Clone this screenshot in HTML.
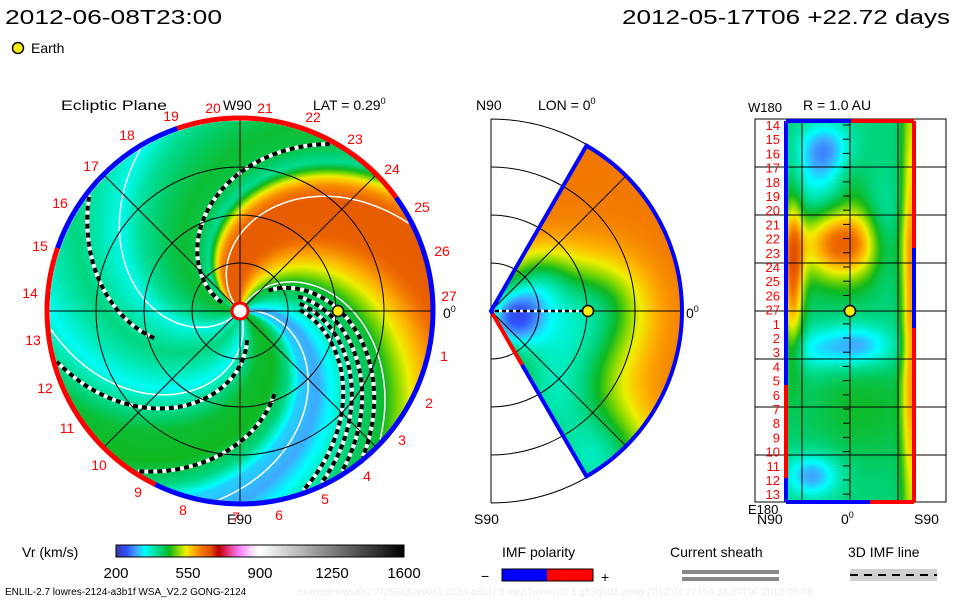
<!DOCTYPE html>
<html><head><meta charset="utf-8"><style>
html,body{margin:0;padding:0;background:#fff;}
#wrap{position:relative;width:960px;height:600px;overflow:hidden;}
canvas,svg{position:absolute;left:0;top:0;}
text{font-family:"Liberation Sans",sans-serif;}
</style></head><body>
<div id="wrap">
<canvas id="cv" width="960" height="600"></canvas>
<svg id="ov" width="960" height="600" xmlns="http://www.w3.org/2000/svg">
<text x="5" y="24" font-size="20" textLength="217" lengthAdjust="spacingAndGlyphs">2012-06-08T23:00</text>
<text x="622" y="24" font-size="20" textLength="328" lengthAdjust="spacingAndGlyphs">2012-05-17T06 +22.72 days</text>
<circle cx="18" cy="48" r="5.5" fill="#ffee00" stroke="#000" stroke-width="1.5"/>
<text x="31" y="53" font-size="14">Earth</text>
<text x="61" y="110" font-size="14" textLength="106" lengthAdjust="spacingAndGlyphs">Ecliptic Plane</text>
<text x="223" y="110" font-size="14">W90</text>
<text x="313" y="110" font-size="14">LAT = 0.29<tspan dy="-6" font-size="9">0</tspan></text>
<text x="227" y="524" font-size="14">E90</text>
<text x="476" y="110" font-size="14">N90</text>
<text x="538" y="110" font-size="14">LON = 0<tspan dy="-6" font-size="9">0</tspan></text>
<text x="474" y="524" font-size="14">S90</text>
<text x="443" y="318" font-size="14">0<tspan dy="-6" font-size="9">0</tspan></text>
<text x="686" y="318" font-size="14">0<tspan dy="-6" font-size="9">0</tspan></text>
<text x="803" y="110" font-size="14">R = 1.0 AU</text>
<text x="748" y="112" font-size="13">W180</text>
<text x="748" y="514" font-size="13">E180</text>
<text x="757" y="524" font-size="14">N90</text>
<text x="841" y="524" font-size="14">0<tspan dy="-6" font-size="9">0</tspan></text>
<text x="914" y="524" font-size="14">S90</text>
<rect x="755" y="119" width="191" height="383" fill="none" stroke="#000"/>
<g id="grid"></g>
<g id="ecl"></g>
<g id="mer"></g>
<g id="ll"></g>
<text x="22" y="557" font-size="14">Vr (km/s)</text>
<g id="cbar"></g>
<rect x="116" y="545" width="288" height="12" fill="none" stroke="#000"/>
<g id="cbticks"></g>
<text x="502" y="557" font-size="14">IMF polarity</text>
<text x="481" y="581" font-size="14">−</text>
<rect x="502" y="569" width="45" height="12" fill="#0000ff"/>
<rect x="547" y="569" width="46" height="12" fill="#ff0000"/>
<rect x="502" y="569" width="91" height="12" fill="none" stroke="#000"/>
<text x="601" y="582" font-size="14">+</text>
<text x="670" y="557" font-size="14">Current sheath</text>
<rect x="682" y="570" width="97" height="4" fill="#888"/>
<rect x="682" y="577" width="97" height="4" fill="#888"/>
<text x="848" y="557" font-size="14">3D IMF line</text>
<rect x="850" y="569" width="87" height="12" fill="#d0d0d0"/>
<line x1="850" y1="575" x2="937" y2="575" stroke="#000" stroke-width="2" stroke-dasharray="8 6"/>
<text x="5" y="595" font-size="10">ENLIL-2.7 lowres-2124-a3b1f WSA_V2.2 GONG-2124</text>
<text x="297" y="595" font-size="10" fill="#ececec">examples/wsafr2.7/256x30x90x1.2124-a3b1f.8-mcp1umn1cd-1.g53q5d2.gong-2012:04:27T04:38:00T00    2012-06-08</text>
</svg>
</div>
<script>
// ---- data ----
const cmapV=[200,250,300,340,380,420,460,500,540,580,620,660,700,740,800,860,900,1600];
const cmapC=['#3a3aa0','#3050ff','#40a8ff','#00ffff','#00e8b0','#00d070','#10b820','#80d800','#f0f000','#ffb000','#f07000','#e05000','#c00000','#e03070','#ff80ff','#ffe0ff','#ffffff','#000000'];
const cbTickVals=[200,550,900,1250,1600];
const eclPsi=[0,15,25,35,45,60,70,80,90,105,130,140,145,150,155,165,180,195,210,225,240,255,270,285,300,315,335,350,360];
const eclV=[320,300,340,380,420,450,500,550,590,640,645,600,550,470,400,440,450,430,400,350,380,410,380,345,400,450,460,410,320];
const dashedArms=[55,47,40,34,166,247,300,342];
const dashedStart=[35,60,60,60,20,90,30,90];
const whiteArms=[8,62,132,226,290];
const merBase=615;
const merBlobs=[[0.1,-0.03,0.12,-270],[0.42,-0.08,0.22,-190],[0.3,-0.45,0.2,-170],[0.55,-0.8,0.2,-220],[0.25,0.15,0.12,-110],[0.6,0.05,0.15,-60]];
const llBase=415;
const llBlobs=[[0.45,0.32,0.25,0.07,230],[0.05,0.40,0.06,0.15,200],[0.97,0.5,0.05,0.5,170],[0.3,0.07,0.15,0.05,-110],[0.25,0.17,0.2,0.07,-70],[0.55,0.59,0.2,0.04,-120],[0.2,0.6,0.15,0.04,-60],[0.2,0.93,0.15,0.04,-120],[0.75,0.3,0.1,0.08,-80],[0.6,0.75,0.3,0.1,40],[0.5,0.15,0.1,0.06,40]];
const lonLabels=['14','15','16','17','18','19','20','21','22','23','24','25','26','27','1','2','3','4','5','6','7','8','9','10','11','12','13'];
const rimLabels=[['19',171,121],['20',213,113],['21',265,113],['22',313,122],['23',355,144],['24',392,174],['25',422,212],['26',442,256],['27',449,301],['1',444,361],['2',429,408],['3',402,445],['4',367,481],['5',325,504],['6',279,520],['7',236,522],['8',183,515],['9',138,497],['10',99,470],['11',67,433],['12',45,393],['13',33,345],['14',30,298],['15',40,251],['16',60,208],['17',91,171],['18',127,140]];
// ---- geometry ----
const CX=240,CY=311,R=191,K=0.55;
const MX=491,MY=311,MR=191;
const LX0=786,LX1=914,LY0=121,LY1=502;
const NS='http://www.w3.org/2000/svg';
function hex(c){return [parseInt(c.substr(1,2),16),parseInt(c.substr(3,2),16),parseInt(c.substr(5,2),16)];}
const cmapRGB=cmapC.map(hex);
function cmap(v){
  if(v<=cmapV[0])return cmapRGB[0];
  for(let i=1;i<cmapV.length;i++){if(v<=cmapV[i]){const t=(v-cmapV[i-1])/(cmapV[i]-cmapV[i-1]);const a=cmapRGB[i-1],b=cmapRGB[i];return [a[0]+(b[0]-a[0])*t,a[1]+(b[1]-a[1])*t,a[2]+(b[2]-a[2])*t];}}
  return cmapRGB[cmapRGB.length-1];
}
function interp(xs,ys,x){for(let i=1;i<xs.length;i++){if(x<=xs[i]){const t=(x-xs[i-1])/(xs[i]-xs[i-1]);return ys[i-1]+(ys[i]-ys[i-1])*t;}}return ys[ys.length-1];}
const cv=document.getElementById('cv');const ctx=cv.getContext('2d');
const img=ctx.createImageData(960,600);const D=img.data;
function put(x,y,c){const i=(y*960+x)*4;D[i]=c[0];D[i+1]=c[1];D[i+2]=c[2];D[i+3]=255;}
for(let y=CY-R;y<=CY+R;y++)for(let x=CX-R;x<=CX+R;x++){
  const dx=x-CX,dy=CY-y,r=Math.hypot(dx,dy);if(r>R||r<8)continue;
  let ph=Math.atan2(dy,dx)*180/Math.PI;let psi=((ph+K*r)%360+360)%360;
  put(x,y,cmap(interp(eclPsi,eclV,psi)));
}
for(let y=MY-MR;y<=MY+MR;y++)for(let x=MX;x<=MX+MR;x++){
  const dx=x-MX,dy=MY-y,r=Math.hypot(dx,dy);if(r>MR||r<4)continue;
  const th=Math.atan2(dy,dx)*180/Math.PI;if(Math.abs(th)>60)continue;
  const u=dx/MR,w=dy/MR;let v=merBase;
  for(const b of merBlobs){v+=b[3]*Math.exp(-((u-b[0])**2+(w-b[1])**2)/(2*b[2]*b[2]));}
  put(x,y,cmap(v));
}
for(let y=LY0;y<=LY1;y++)for(let x=LX0;x<=LX1;x++){
  const u=(x-LX0)/(LX1-LX0),w=(y-LY0)/(LY1-LY0);let v=llBase;
  for(const b of llBlobs){v+=b[4]*Math.exp(-((u-b[0])**2)/(2*b[2]*b[2])-((w-b[1])**2)/(2*b[3]*b[3]));}
  put(x,y,cmap(v));
}
const cbX0=116,cbX1=404;
function cbx(v){return cbX0+(v-200)/(1600-200)*(cbX1-cbX0);}
for(let x=cbX0;x<cbX1;x++){const v=200+(x-cbX0+0.5)/(cbX1-cbX0)*1400;const c=cmap(v);for(let y=545;y<557;y++)put(x,y,c);}
ctx.putImageData(img,0,0);
// ---- svg overlays ----
function mk(tag,parent){const e=document.createElementNS(NS,tag);parent.appendChild(e);return e;}
const ecl=document.getElementById('ecl'),mer=document.getElementById('mer'),ll=document.getElementById('ll'),grid=document.getElementById('grid');
function spiral(psi,r0){let d='';for(let r=r0;r<=R;r+=2){const ph=(psi-K*r)*Math.PI/180;d+=(d?'L':'M')+(CX+r*Math.cos(ph)).toFixed(1)+' '+(CY-r*Math.sin(ph)).toFixed(1);}return d;}
whiteArms.forEach(p=>{const e=mk('path',ecl);e.setAttribute('d',spiral(p,10));e.setAttribute('fill','none');e.setAttribute('stroke','#fff');e.setAttribute('stroke-width','1.5');

});
dashedArms.forEach((p,i)=>{const e=mk('path',ecl);e.setAttribute('d',spiral(p,dashedStart[i]));e.setAttribute('fill','none');e.setAttribute('stroke','#fff');e.setAttribute('stroke-width','4');


const f=mk('path',ecl);f.setAttribute('d',spiral(p,dashedStart[i]));f.setAttribute('fill','none');f.setAttribute('stroke','#000');f.setAttribute('stroke-width','4');f.setAttribute('stroke-dasharray','5 4');

});
[48,96,144].forEach(r=>{const c=mk('circle',ecl);c.setAttribute('cx',CX);c.setAttribute('cy',CY);c.setAttribute('r',r);c.setAttribute('fill','none');c.setAttribute('stroke','#000');c.setAttribute('stroke-width','1');

});
[0,45,90,135].forEach(a=>{const t=a*Math.PI/180;const l=mk('line',ecl);l.setAttribute('x1',CX-R*Math.cos(t));l.setAttribute('y1',CY+R*Math.sin(t));l.setAttribute('x2',CX+R*Math.cos(t));l.setAttribute('y2',CY-R*Math.sin(t));l.setAttribute('stroke','#000');l.setAttribute('stroke-width','1');

});
function arc(cx,cy,r,a0,a1){const p0=[cx+r*Math.cos(a0*Math.PI/180),cy-r*Math.sin(a0*Math.PI/180)],p1=[cx+r*Math.cos(a1*Math.PI/180),cy-r*Math.sin(a1*Math.PI/180)];return 'M'+p0[0]+' '+p0[1]+'A'+r+' '+r+' 0 '+((a1-a0)>180?1:0)+' 0 '+p1[0]+' '+p1[1];}
[[36,109,'#ff0000'],[109,161,'#0000ff'],[161,244,'#ff0000'],[244,396,'#0000ff']].forEach(s=>{const e=mk('path',ecl);e.setAttribute('d',arc(CX,CY,R+2,s[0],s[1]));e.setAttribute('fill','none');e.setAttribute('stroke',s[2]);e.setAttribute('stroke-width','5');

});
{const s=mk('circle',ecl);s.setAttribute('cx',CX);s.setAttribute('cy',CY);s.setAttribute('r',8);s.setAttribute('fill','#fff');s.setAttribute('stroke','#ff0000');s.setAttribute('stroke-width','3');


const e=mk('circle',ecl);e.setAttribute('cx',CX+98);e.setAttribute('cy',CY);e.setAttribute('r',5.5);e.setAttribute('fill','#ffee00');e.setAttribute('stroke','#000');e.setAttribute('stroke-width','1.5');

}
rimLabels.forEach(l=>{const t=mk('text',ecl);t.setAttribute('x',l[1]);t.setAttribute('y',l[2]);t.setAttribute('font-size','14');t.setAttribute('fill','#ff0000');t.setAttribute('text-anchor','middle');t.textContent=l[0];

});
[48,96,144,192].forEach(r=>{const e=mk('path',mer);e.setAttribute('d','M'+MX+' '+(MY-r)+'A'+r+' '+r+' 0 0 1 '+MX+' '+(MY+r));e.setAttribute('fill','none');e.setAttribute('stroke','#000');e.setAttribute('stroke-width','1');

});
[[MX,MY-192,MX,MY+192],[MX,MY,MX+MR,MY],[MX,MY,MX+MR*Math.cos(Math.PI/4),MY-MR*Math.sin(Math.PI/4)],[MX,MY,MX+MR*Math.cos(Math.PI/4),MY+MR*Math.sin(Math.PI/4)]].forEach(p=>{const l=mk('line',mer);l.setAttribute('x1',p[0]);l.setAttribute('y1',p[1]);l.setAttribute('x2',p[2]);l.setAttribute('y2',p[3]);l.setAttribute('stroke','#000');l.setAttribute('stroke-width','1');

});
{const c60=Math.cos(Math.PI/3),s60=Math.sin(Math.PI/3);
const w=mk('path',mer);w.setAttribute('d','M'+(MX+4*c60)+' '+(MY+4*s60)+'L'+MX+' '+MY+'L'+(MX+MR*c60)+' '+(MY-MR*s60)+'A'+MR+' '+MR+' 0 0 1 '+(MX+MR*c60)+' '+(MY+MR*s60)+'L'+(MX+62*c60)+' '+(MY+62*s60));w.setAttribute('fill','none');w.setAttribute('stroke','#0000ff');w.setAttribute('stroke-width','4');


const rd=mk('line',mer);rd.setAttribute('x1',MX+3*c60);rd.setAttribute('y1',MY+3*s60);rd.setAttribute('x2',MX+62*c60);rd.setAttribute('y2',MY+62*s60);rd.setAttribute('stroke','#ff0000');rd.setAttribute('stroke-width','4');


const dl=mk('line',mer);dl.setAttribute('x1',MX+4);dl.setAttribute('y1',MY);dl.setAttribute('x2',MX+97);dl.setAttribute('y2',MY);dl.setAttribute('stroke','#fff');dl.setAttribute('stroke-width','2.5');


const dk=mk('line',mer);dk.setAttribute('x1',MX+4);dk.setAttribute('y1',MY);dk.setAttribute('x2',MX+97);dk.setAttribute('y2',MY);dk.setAttribute('stroke','#000');dk.setAttribute('stroke-width','2.5');dk.setAttribute('stroke-dasharray','4 3');


const e=mk('circle',mer);e.setAttribute('cx',MX+97);e.setAttribute('cy',MY);e.setAttribute('r',5.5);e.setAttribute('fill','#ffee00');e.setAttribute('stroke','#000');e.setAttribute('stroke-width','1.5');

}
[802,850,898].forEach(x=>{const l=mk('line',grid);l.setAttribute('x1',x);l.setAttribute('y1',119);l.setAttribute('x2',x);l.setAttribute('y2',502);l.setAttribute('stroke','#000');

});
[167,215,263,311,359,407,455].forEach(y=>{const l=mk('line',grid);l.setAttribute('x1',755);l.setAttribute('y1',y);l.setAttribute('x2',946);l.setAttribute('y2',y);l.setAttribute('stroke','#000');

});
lonLabels.forEach((s,i)=>{const y=125+i*14.2;const t=mk('text',ll);t.setAttribute('x',780);t.setAttribute('y',y+5);t.setAttribute('font-size','13');t.setAttribute('fill','#ff0000');t.setAttribute('text-anchor','end');t.textContent=s;


const k=mk('line',ll);k.setAttribute('x1',843);k.setAttribute('x2',850);k.setAttribute('y1',y);k.setAttribute('y2',y);k.setAttribute('stroke','#000');

});
[[786,121,786,385,'#0000ff'],[786,385,786,478,'#ff0000'],[786,478,786,502,'#0000ff'],[914,121,914,248,'#ff0000'],[914,248,914,328,'#0000ff'],[914,328,914,502,'#ff0000'],[786,121,851,121,'#0000ff'],[851,121,914,121,'#ff0000'],[786,502,870,502,'#0000ff'],[870,502,914,502,'#ff0000']].forEach(p=>{const l=mk('line',ll);l.setAttribute('x1',p[0]);l.setAttribute('y1',p[1]);l.setAttribute('x2',p[2]);l.setAttribute('y2',p[3]);l.setAttribute('stroke',p[4]);l.setAttribute('stroke-width','4');

});
{const e=mk('circle',ll);e.setAttribute('cx',850);e.setAttribute('cy',311);e.setAttribute('r',5.5);e.setAttribute('fill','#ffee00');e.setAttribute('stroke','#000');e.setAttribute('stroke-width','1.5');

}
const cbt=document.getElementById('cbticks');
cbTickVals.forEach(v=>{const t=mk('text',cbt);t.setAttribute('x',cbx(v));t.setAttribute('y',578);t.setAttribute('font-size','15');t.setAttribute('text-anchor','middle');t.textContent=v;

});
</script>
</body></html>
